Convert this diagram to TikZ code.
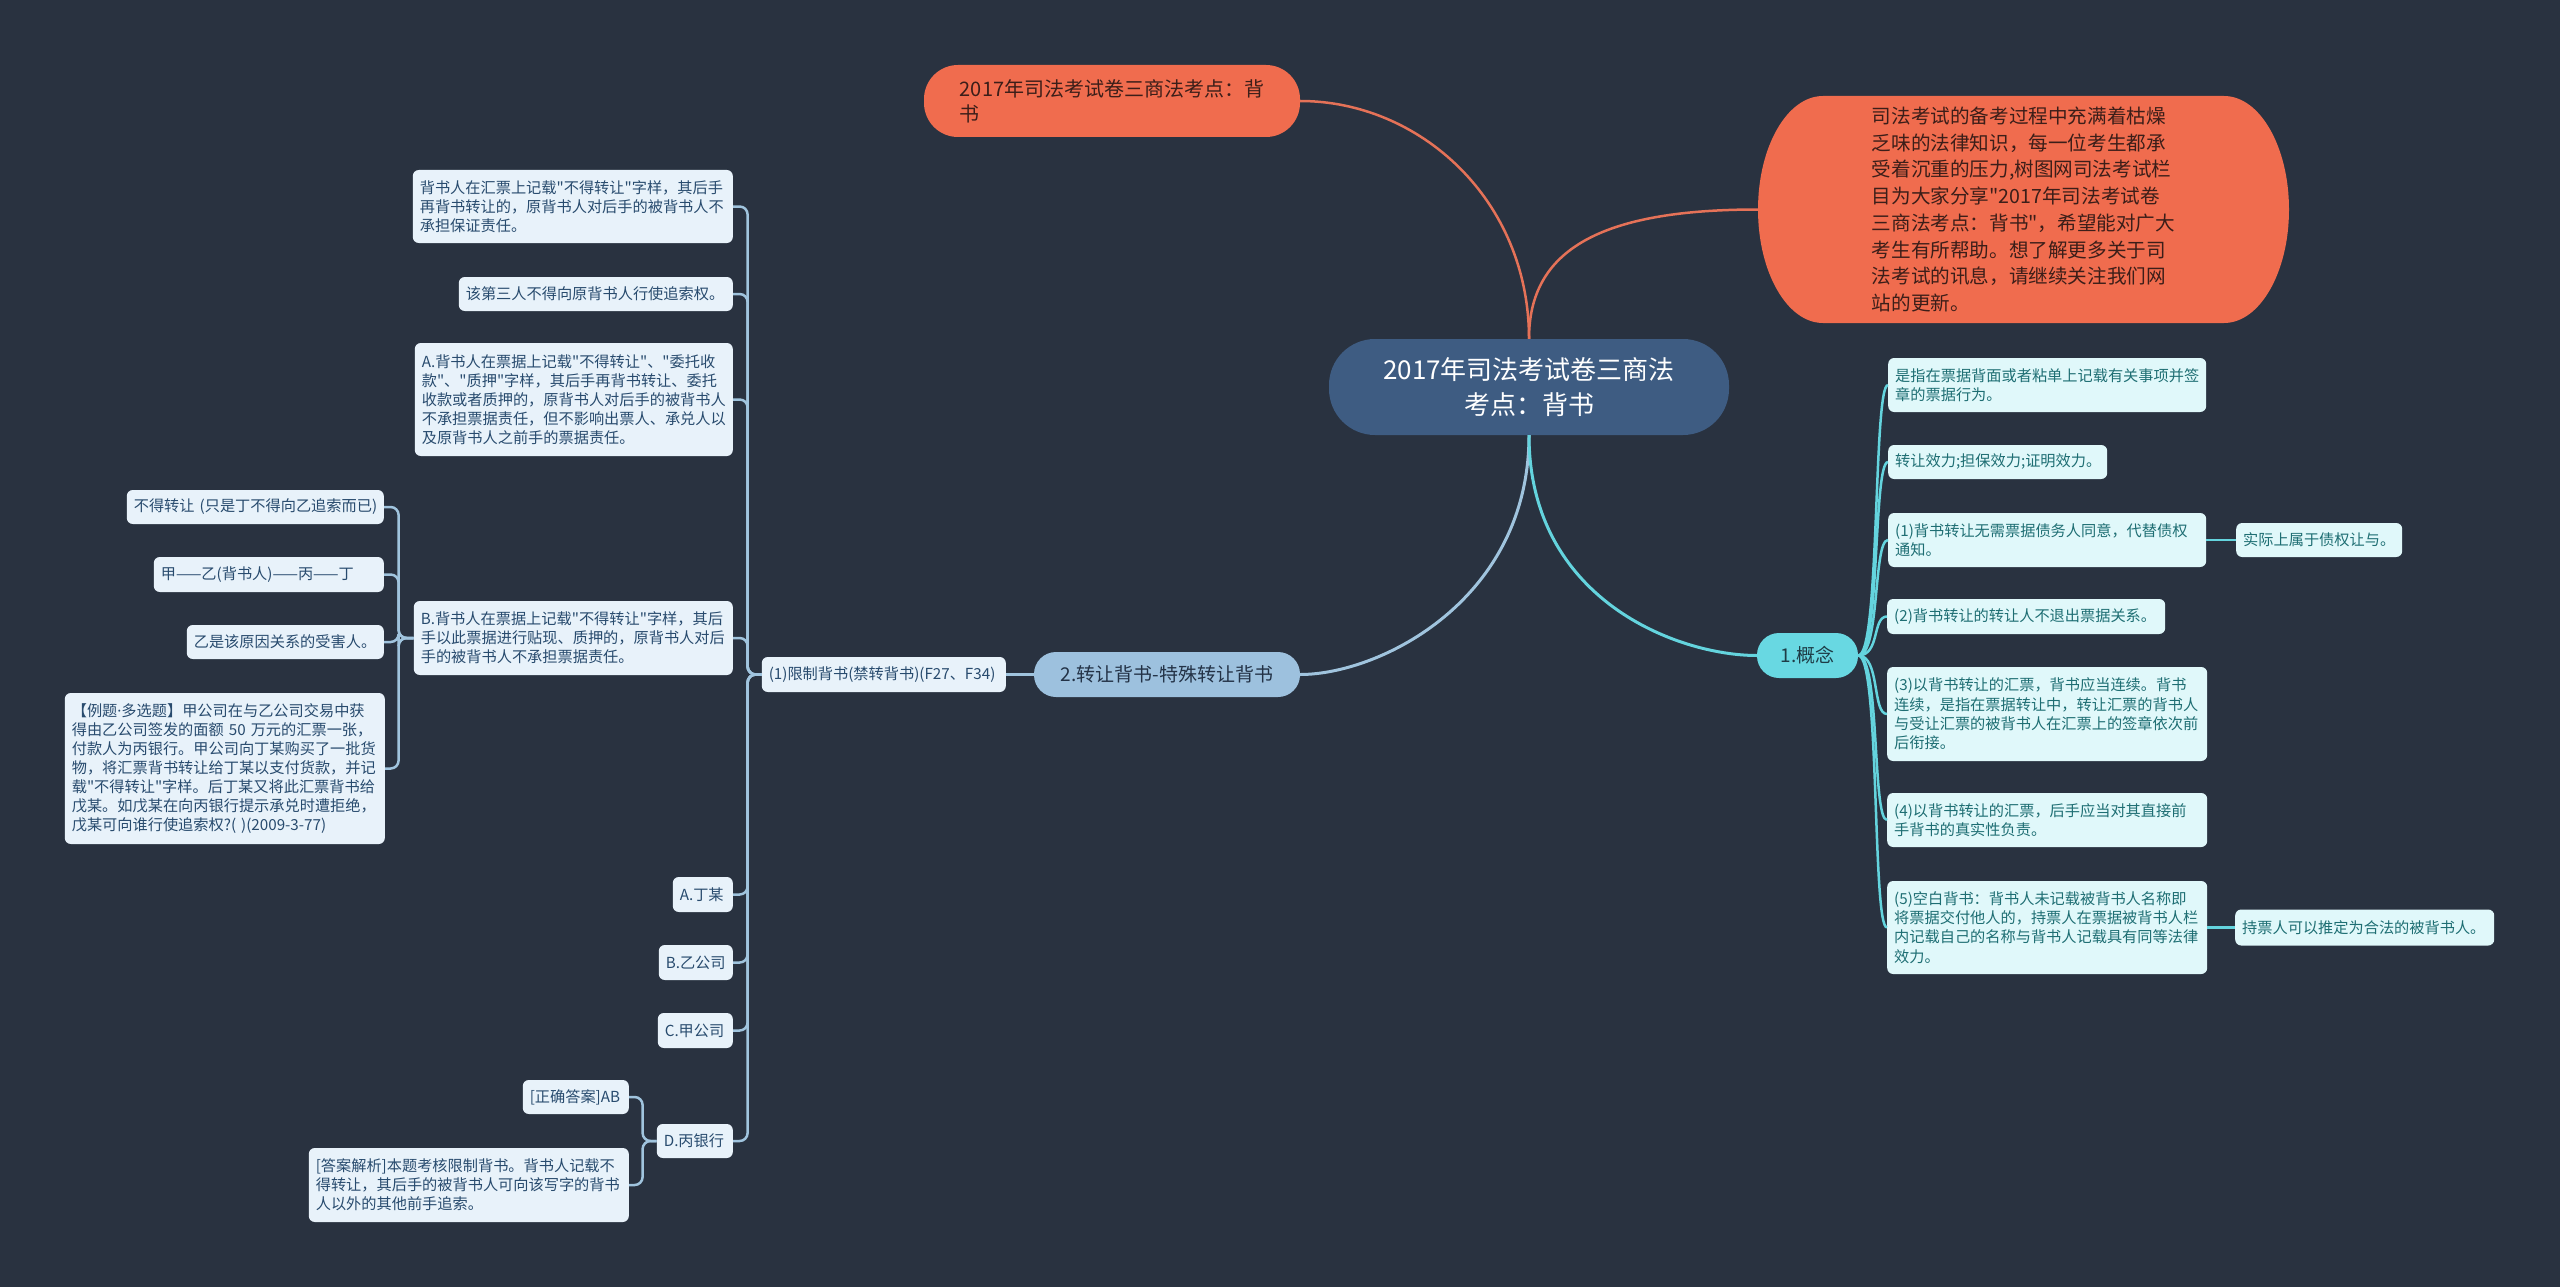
\documentclass[tikz,border=0pt]{standalone}
\usepackage{fontspec}
\setmainfont{Noto Sans CJK SC}[Ligatures=TeXOff]
\newfontfamily\latinf{Noto Sans}[Ligatures=TeXOff]
\definecolor{bg}{HTML}{293240}
\definecolor{rootc}{HTML}{3E5C82}
\definecolor{orangec}{HTML}{F06C4E}
\definecolor{otext}{HTML}{3C1E19}
\definecolor{bluec}{HTML}{9DC1DE}
\definecolor{btext}{HTML}{233246}
\definecolor{cyanc}{HTML}{68D8E2}
\definecolor{ctext}{HTML}{1E3C46}
\definecolor{lfill}{HTML}{E8F2FA}
\definecolor{ltext}{HTML}{284B6E}
\definecolor{rfill}{HTML}{E0F8FA}
\definecolor{rtext}{HTML}{1E6E73}
\definecolor{llinec}{HTML}{A0C4DE}
\definecolor{rlinec}{HTML}{64D4DE}
\definecolor{olinec}{HTML}{E57258}
\begin{document}
\begin{tikzpicture}[x=1pt,y=-1pt,
  rootbox/.style={fill=rootc,text=white,rounded corners=46pt,minimum width=400pt,minimum height=96pt,align=center,inner sep=0pt,font=\fontsize{26pt}{35pt}\selectfont},
  obox/.style={fill=orangec,text=otext,inner sep=0pt,align=left},
  mainb/.style={fill=bluec,text=btext,rounded corners=22pt,minimum height=45pt,inner sep=0pt,font=\fontsize{19pt}{23pt}\selectfont},
  mainc/.style={fill=cyanc,text=ctext,rounded corners=22pt,minimum height=45pt,inner sep=0pt,font=\fontsize{19pt}{23pt}\selectfont},
  lbox/.style={fill=lfill,text=ltext,rounded corners=6pt,inner xsep=7pt,inner ysep=0pt,align=left,anchor=east,font=\fontsize{15.2pt}{19pt}\selectfont},
  rbox/.style={fill=rfill,text=rtext,rounded corners=6pt,inner xsep=7pt,inner ysep=0pt,align=left,anchor=west,font=\fontsize{15.2pt}{19.3pt}\selectfont},
  lline/.style={draw=llinec,line width=2.5pt,rounded corners=8pt},
  rline/.style={draw=rlinec,line width=2.5pt},
  oline/.style={draw=olinec,line width=2.5pt},
  bline/.style={draw=llinec,line width=3pt},
  cline/.style={draw=rlinec,line width=3pt}]
\fill[bg] (0,0) rectangle (2560,1287);
\useasboundingbox (0,0) rectangle (2560,1287);

% root and top nodes
\node[rootbox] (root) at (1529,387) {2017年司法考试卷三商法\\考点：背书};
\node[obox,rounded corners=34pt,minimum width=376pt,minimum height=72pt,font=\fontsize{20pt}{25pt}\selectfont] (t1) at (1112,101) {2017年司法考试卷三商法考点：背\\书};
\fill[orangec] (1823,96) -- (2224,96) .. controls (2260,96) and (2289,147) .. (2289,209.5)
  .. controls (2289,272) and (2260,323) .. (2224,323) -- (1823,323)
  .. controls (1787,323) and (1758,272) .. (1758,209.5)
  .. controls (1758,147) and (1787,96) .. (1823,96) -- cycle;
\node[text=otext,inner sep=0pt,align=left,minimum width=531pt,minimum height=227pt,font=\fontsize{19.6pt}{26.7pt}\selectfont] (t2) at (2023.5,209.5) {司法考试的备考过程中充满着枯燥\\乏味的法律知识，每一位考生都承\\受着沉重的压力,树图网司法考试栏\\目为大家分享"2017年司法考试卷\\三商法考点：背书"，希望能对广大\\考生有所帮助。想了解更多关于司\\法考试的讯息，请继续关注我们网\\站的更新。};

% main branches
\node[mainb,minimum width=266pt] (n2) at (1167,674.5) {2.转让背书-特殊转让背书};
\node[mainc,minimum width=101pt] (n1) at (1807.5,655.5) {1.概念};

% left side
\node[lbox,text width=230pt,minimum height=35pt] (r1) at (1006,674.5) {(1)限制背书(禁转背书)(F27、F34)};
\node[lbox,text width=306pt,minimum height=73pt] (L1) at (733,206.5) {背书人在汇票上记载"不得转让"字样，其后手\\再背书转让的，原背书人对后手的被背书人不\\承担保证责任。};
\node[lbox,text width=260pt,minimum height=34pt] (L2) at (733,294) {该第三人不得向原背书人行使追索权。};
\node[lbox,text width=304pt,minimum height=113pt] (L3) at (733,399.5) {A.背书人在票据上记载"不得转让"、"委托收\\款"、"质押"字样，其后手再背书转让、委托\\收款或者质押的，原背书人对后手的被背书人\\不承担票据责任，但不影响出票人、承兑人以\\及原背书人之前手的票据责任。};
\node[lbox,text width=305pt,minimum height=74pt] (L4) at (733,638) {B.背书人在票据上记载"不得转让"字样，其后\\手以此票据进行贴现、质押的，原背书人对后\\手的被背书人不承担票据责任。};
\node[lbox,text width=243pt,minimum height=34pt] (L4a) at (384,507) {不得转让~(只是丁不得向乙追索而已)};
\node[lbox,text width=216pt,minimum height=35pt] (L4b) at (384,574.5) {甲——乙(背书人)——丙——丁};
\node[lbox,text width=183pt,minimum height=34pt] (L4c) at (384,642) {乙是该原因关系的受害人。};
\node[lbox,text width=306pt,minimum height=151pt] (L4d) at (385,768.5) {【例题{\latinf ·}多选题】甲公司在与乙公司交易中获\\得由乙公司签发的面额~50~万元的汇票一张，\\付款人为丙银行。甲公司向丁某购买了一批货\\物，将汇票背书转让给丁某以支付货款，并记\\载"不得转让"字样。后丁某又将此汇票背书给\\戊某。如戊某在向丙银行提示承兑时遭拒绝，\\戊某可向谁行使追索权?(~)(2009-3-77)};
\node[lbox,text width=46pt,minimum height=35pt] (L5) at (733,894.5) {A.丁某};
\node[lbox,text width=60pt,minimum height=35pt] (L6) at (733,962.5) {B.乙公司};
\node[lbox,text width=61pt,minimum height=35pt] (L7) at (733,1030.5) {C.甲公司};
\node[lbox,text width=62pt,minimum height=34pt] (L8) at (733,1141) {D.丙银行};
\node[lbox,text width=92pt,minimum height=34pt] (L8a) at (629,1097) {[正确答案]AB};
\node[lbox,text width=306pt,minimum height=74pt] (L8b) at (629,1185) {[答案解析]本题考核限制背书。背书人记载不\\得转让，其后手的被背书人可向该写字的背书\\人以外的其他前手追索。};

% right side
\node[rbox,text width=304pt,minimum height=54pt] (Ra) at (1888,385) {是指在票据背面或者粘单上记载有关事项并签\\章的票据行为。};
\node[rbox,text width=205pt,minimum height=34pt] (Rb) at (1888,462) {转让效力;担保效力;证明效力。};
\node[rbox,text width=304pt,minimum height=54pt] (Rc) at (1888,540) {(1)背书转让无需票据债务人同意，代替债权\\通知。};
\node[rbox,text width=152pt,minimum height=34pt] (Rc1) at (2236,540) {实际上属于债权让与。};
\node[rbox,text width=264pt,minimum height=35pt] (Rd) at (1887,616.5) {(2)背书转让的转让人不退出票据关系。};
\node[rbox,text width=306pt,minimum height=94pt] (Re) at (1887,714) {(3)以背书转让的汇票，背书应当连续。背书\\连续，是指在票据转让中，转让汇票的背书人\\与受让汇票的被背书人在汇票上的签章依次前\\后衔接。};
\node[rbox,text width=306pt,minimum height=54pt] (Rf) at (1887,820) {(4)以背书转让的汇票，后手应当对其直接前\\手背书的真实性负责。};
\node[rbox,text width=306pt,minimum height=93pt] (Rg) at (1887,927.5) {(5)空白背书：背书人未记载被背书人名称即\\将票据交付他人的，持票人在票据被背书人栏\\内记载自己的名称与背书人记载具有同等法律\\效力。};
\node[rbox,text width=245pt,minimum height=36pt] (Rg1) at (2235,927.5) {持票人可以推定为合法的被背书人。};

% connectors from root
\draw[oline] (root.north) .. controls (1529,200) and (1420,101) .. (t1.east);
\draw[oline] (root.north) .. controls (1529,250) and (1600,209.5) .. (t2.west);
\draw[bline] (root.south) .. controls (1529,600) and (1380,674.5) .. (n2.east);
\draw[cline] (root.south) .. controls (1529,600) and (1678,655.5) .. (n1.west);

% left connectors
\draw[lline] (n2.west) -- (r1.east);
\foreach \c in {L1,L2,L3,L4,L5,L6,L7,L8}
  \draw[lline] (r1.west) -- ++(-14,0) |- (\c.east);
\foreach \c in {L4a,L4b,L4c,L4d}
  \draw[lline] (L4.west) -- ++(-15,0) |- (\c.east);
\foreach \c in {L8a,L8b}
  \draw[lline] (L8.west) -- ++(-14,0) |- (\c.east);

% right connectors
\foreach \c in {Ra,Rb,Rc,Rd,Re,Rf,Rg}
  \draw[rline] (n1.east) .. controls +(22,0) and +(-15,0) .. (\c.west);
\draw[rline] (Rc.east) -- (Rc1.west);
\draw[rline] (Rg.east) -- (Rg1.west);
\end{tikzpicture}
\end{document}
